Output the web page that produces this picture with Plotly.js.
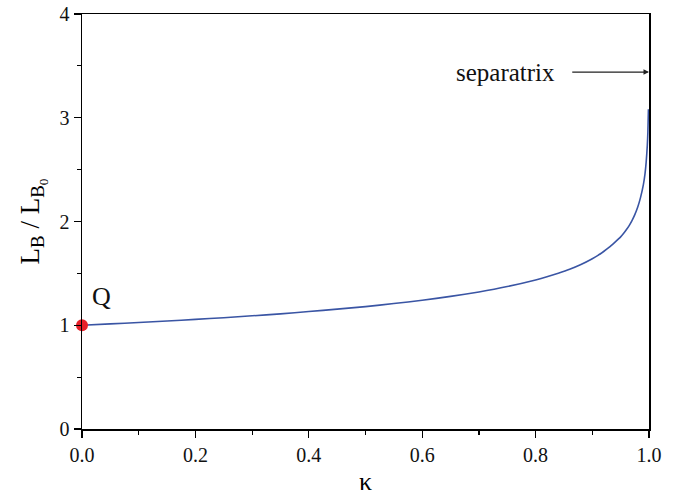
<!DOCTYPE html>
<html>
<head>
<meta charset="utf-8">
<script src="https://cdn.plot.ly/plotly-3.0.1.min.js"></script>
<style>html,body{margin:0;padding:0;background:#fff}</style>
</head>
<body>
<div id="chart" style="width:684px;height:496px"></div>
<script>
// values
const kappa = [0, 0.05, 0.1, 0.15, 0.2, 0.25, 0.3, 0.35, 0.4, 0.45, 0.5, 0.55, 0.6, 0.65, 0.7, 0.75, 0.8, 0.82, 0.84, 0.86, 0.88, 0.9, 0.91, 0.92, 0.93, 0.94, 0.95, 0.955, 0.96, 0.965, 0.97, 0.975, 0.98, 0.985, 0.99, 0.993, 0.995, 0.997, 0.998, 0.999];
const ratio = [1.000, 1.013, 1.027, 1.041, 1.057, 1.073, 1.091, 1.110, 1.132, 1.155, 1.180, 1.209, 1.241, 1.278, 1.321, 1.373, 1.437, 1.467, 1.501, 1.539, 1.585, 1.641, 1.673, 1.711, 1.752, 1.801, 1.852, 1.884, 1.920, 1.961, 2.009, 2.066, 2.137, 2.230, 2.353, 2.462, 2.572, 2.732, 2.861, 3.082];
const pointQ = {x: [0], y: [1]};
const xTicks = [0, 0.2, 0.4, 0.6, 0.8, 1.0];
const xTickText = ["0.0", "0.2", "0.4", "0.6", "0.8", "1.0"];
const yTicks = [0, 1, 2, 3, 4];
const separatrixY = 3.44;

const font = "Liberation Serif, Times New Roman, serif";

const traces = [
  {x: kappa, y: ratio, mode: "lines", line: {color: "#3a55a4", width: 1.6, shape: "spline", smoothing: 0.6}, hoverinfo: "skip"},
  {x: pointQ.x, y: pointQ.y, mode: "markers", marker: {color: "#e8202a", size: 12}, cliponaxis: false}
];

const axisCommon = {
  showline: true, linecolor: "#000", linewidth: 1.5, mirror: true,
  ticks: "outside", ticklen: 7, tickwidth: 1.3, tickcolor: "#000",
  showgrid: false, zeroline: false,
  tickfont: {family: font, size: 20, color: "#111"}
};

const layout = {
  width: 684, height: 496,
  margin: {l: 82, r: 35, t: 14, b: 67},
  paper_bgcolor: "#fff", plot_bgcolor: "#fff",
  showlegend: false,
  font: {family: font, color: "#000"},
  xaxis: Object.assign({}, axisCommon, {
    range: [0, 1], tickvals: xTicks, ticktext: xTickText,
    minor: {dtick: 0.1, ticks: "outside", ticklen: 4, tickwidth: 1.2, tickcolor: "#000", showgrid: false},
    title: {text: "κ", font: {family: font, size: 26}, standoff: 8}
  }),
  yaxis: Object.assign({}, axisCommon, {
    range: [0, 4], tickvals: yTicks,
    minor: {dtick: 0.5, ticks: "outside", ticklen: 4, tickwidth: 1.2, tickcolor: "#000", showgrid: false},
    title: {text: "L<sub>B</sub> / L<sub>B<sub>0</sub></sub>", font: {family: font, size: 27}, standoff: 12}
  }),
  annotations: [
    {x: 1, y: separatrixY, xref: "x", yref: "y", ax: 0.862, ay: separatrixY, axref: "x", ayref: "y",
     showarrow: true, arrowhead: 2, arrowsize: 1, arrowwidth: 1.1, arrowcolor: "#222", text: ""},
    {x: 0.838, y: separatrixY, xref: "x", yref: "y", xanchor: "right", yanchor: "middle",
     showarrow: false, text: "separatrix", font: {family: font, size: 25, color: "#111"}},
    {x: 0.014, y: 1.28, xref: "x", yref: "y", xanchor: "left", yanchor: "middle",
     showarrow: false, text: "Q", font: {family: font, size: 26, color: "#111"}}
  ]
};

Plotly.newPlot("chart", traces, layout, {displayModeBar: false, staticPlot: true});
</script>
</body>
</html>
